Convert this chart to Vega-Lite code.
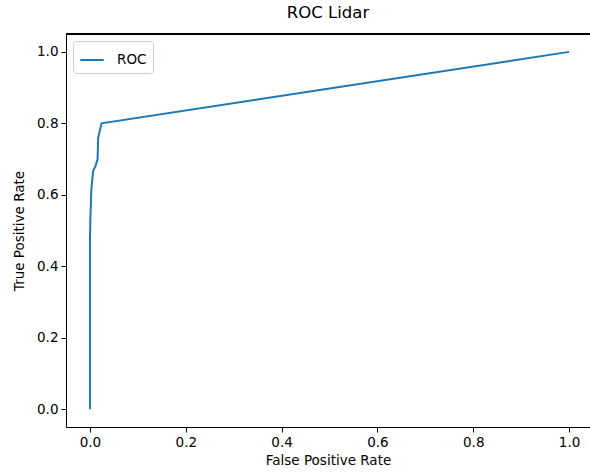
{
  "$schema": "https://vega.github.io/schema/vega-lite/v6.json",
  "autosize": "none",
  "width": 524,
  "height": 393,
  "padding": {"left": 66, "top": 34, "right": 0, "bottom": 47},
  "background": "white",
  "title": {"text": "ROC Lidar", "fontSize": 16.5, "fontWeight": "normal", "font": "DejaVu Sans", "color": "black", "offset": 12, "anchor": "middle", "frame": "group"},
  "config": {
    "view": {"stroke": null},
    "font": "DejaVu Sans",
    "axis": {"grid": false, "domain": true, "domainColor": "black", "domainWidth": 1, "tickColor": "black", "tickSize": 5, "tickWidth": 1, "labelColor": "black", "labelFontSize": 13.5, "titleFontSize": 13.5, "titleFontWeight": "normal", "titleColor": "black", "labelPadding": 3, "labelFont": "DejaVu Sans", "titleFont": "DejaVu Sans"}
  },
  "data": {"values": [
    {"fpr": 0.0, "tpr": 0.0, "series": "ROC"},
    {"fpr": 0.0, "tpr": 0.47, "series": "ROC"},
    {"fpr": 0.001, "tpr": 0.54, "series": "ROC"},
    {"fpr": 0.003, "tpr": 0.617, "series": "ROC"},
    {"fpr": 0.0068, "tpr": 0.668, "series": "ROC"},
    {"fpr": 0.011, "tpr": 0.678, "series": "ROC"},
    {"fpr": 0.016, "tpr": 0.70, "series": "ROC"},
    {"fpr": 0.017, "tpr": 0.758, "series": "ROC"},
    {"fpr": 0.024, "tpr": 0.80, "series": "ROC"},
    {"fpr": 1.0, "tpr": 1.0, "series": "ROC"}
  ]},
  "layer": [
    {
      "mark": {"type": "rule", "color": "black", "strokeWidth": 1},
      "encoding": {"y": {"datum": 1.05}}
    },
    {
      "mark": {"type": "line", "strokeWidth": 2, "clip": true},
      "encoding": {
        "x": {"field": "fpr", "type": "quantitative", "title": "False Positive Rate",
          "scale": {"domain": [-0.05, 1.0437], "nice": false, "zero": false},
          "axis": {"values": [0, 0.2, 0.4, 0.6, 0.8, 1.0], "format": ".1f", "titlePadding": 5}},
        "y": {"field": "tpr", "type": "quantitative", "title": "True Positive Rate",
          "scale": {"domain": [-0.05, 1.05], "nice": false, "zero": false},
          "axis": {"values": [0, 0.2, 0.4, 0.6, 0.8, 1.0], "format": ".1f", "titlePadding": 10}},
        "color": {"field": "series", "type": "nominal",
          "scale": {"range": ["#1f77b4"]},
          "legend": {"title": null, "orient": "top-left", "offset": 7, "symbolType": "stroke", "symbolSize": 550, "symbolStrokeWidth": 2, "labelFontSize": 13.5, "labelColor": "black", "strokeColor": "#cccccc", "fillColor": "white", "cornerRadius": 3, "padding": 6, "labelOffset": 12}
        },
        "order": {"field": "fpr"}
      }
    }
  ]
}
